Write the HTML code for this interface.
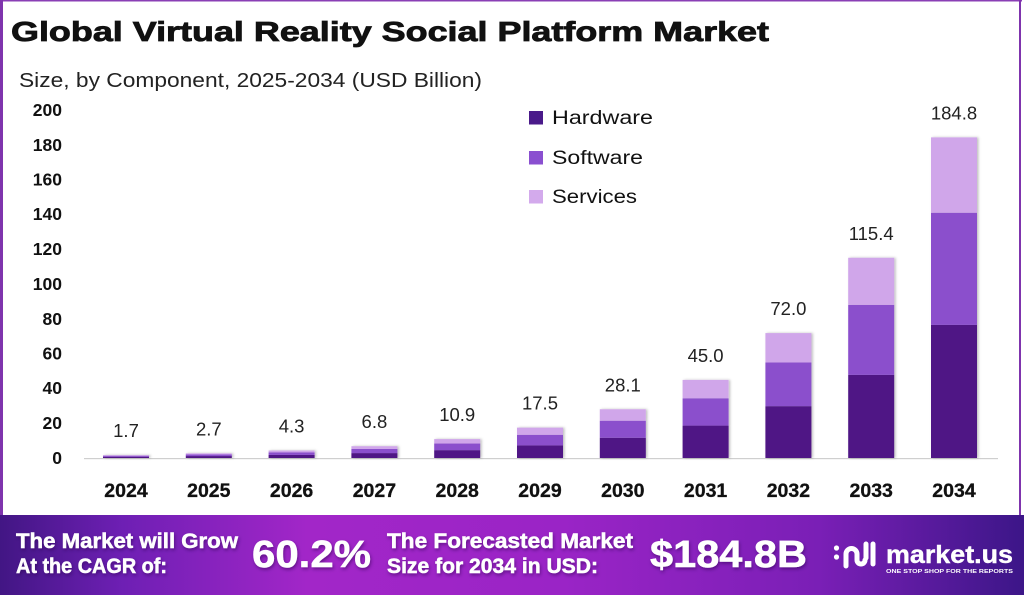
<!DOCTYPE html>
<html><head><meta charset="utf-8"><style>
html,body{margin:0;padding:0;background:#fff;}
svg{display:block;}
text{font-family:"Liberation Sans",sans-serif;}
</style></head><body>
<svg width="1024" height="595" viewBox="0 0 1024 595" xmlns="http://www.w3.org/2000/svg">
<defs>
<linearGradient id="ban" x1="0" y1="0" x2="1" y2="0">
<stop offset="0" stop-color="#421684"/>
<stop offset="0.12" stop-color="#6e1fb4"/>
<stop offset="0.3" stop-color="#a226c8"/>
<stop offset="0.55" stop-color="#9a24c6"/>
<stop offset="0.8" stop-color="#7a1fb6"/>
<stop offset="1" stop-color="#3c1688"/>
</linearGradient>
<filter id="sh" x="-20%" y="-20%" width="140%" height="140%"><feDropShadow dx="1.5" dy="0" stdDeviation="1.2" flood-color="#000" flood-opacity="0.25"/></filter>
<filter id="ts" x="-10%" y="-20%" width="120%" height="150%"><feDropShadow dx="1" dy="2" stdDeviation="1.5" flood-color="#2a0050" flood-opacity="0.5"/></filter>
</defs>
<rect x="0" y="0" width="1024" height="595" fill="#fff"/>
<!-- borders -->
<rect x="0" y="0" width="1022" height="1.5" fill="#8a3fb5"/>
<rect x="0" y="0" width="3" height="515" fill="#7f34ad"/>
<rect x="1019" y="0" width="2" height="515" fill="#7f34ad"/>

<!-- title -->
<text x="11" y="41" font-size="28" font-weight="bold" fill="#111" stroke="#111" stroke-width="0.8" textLength="758" lengthAdjust="spacingAndGlyphs">Global Virtual Reality Social Platform Market</text>
<text x="19" y="87" font-size="20.5" fill="#222" textLength="463" lengthAdjust="spacingAndGlyphs">Size, by Component, 2025-2034 (USD Billion)</text>

<!-- y axis labels -->
<g font-size="17.5" font-weight="bold" fill="#111" text-anchor="end">
<text x="62" y="116">200</text>
<text x="62" y="151">180</text>
<text x="62" y="185.5">160</text>
<text x="62" y="220">140</text>
<text x="62" y="255">120</text>
<text x="62" y="290">100</text>
<text x="62" y="325">80</text>
<text x="62" y="359.5">60</text>
<text x="62" y="394">40</text>
<text x="62" y="429">20</text>
<text x="62" y="464">0</text>
</g>

<!-- baseline -->
<rect x="84" y="458" width="914" height="1.2" fill="#cfcfcf"/>

<!-- bars -->
<g filter="url(#sh)">
<rect x="103" y="456.78" width="46" height="1.22" fill="#4f1585"/><rect x="103" y="455.75" width="46" height="1.03" fill="#8b50cc"/><rect x="103" y="455.05" width="46" height="0.7" fill="#d0a6ea"/>
<rect x="185.8" y="456.06" width="46" height="1.94" fill="#4f1585"/><rect x="185.8" y="454.42" width="46" height="1.64" fill="#8b50cc"/><rect x="185.8" y="453.32" width="46" height="1.1" fill="#d0a6ea"/>
<rect x="268.6" y="454.9" width="46" height="3.1" fill="#4f1585"/><rect x="268.6" y="452.29" width="46" height="2.61" fill="#8b50cc"/><rect x="268.6" y="450.54" width="46" height="1.75" fill="#d0a6ea"/>
<rect x="351.4" y="453.1" width="46" height="4.9" fill="#4f1585"/><rect x="351.4" y="448.97" width="46" height="4.13" fill="#8b50cc"/><rect x="351.4" y="446.2" width="46" height="2.77" fill="#d0a6ea"/>
<rect x="434.2" y="450.15" width="46" height="7.85" fill="#4f1585"/><rect x="434.2" y="443.53" width="46" height="6.62" fill="#8b50cc"/><rect x="434.2" y="439.09" width="46" height="4.44" fill="#d0a6ea"/>
<rect x="517" y="445.4" width="46" height="12.6" fill="#4f1585"/><rect x="517" y="434.77" width="46" height="10.63" fill="#8b50cc"/><rect x="517" y="427.64" width="46" height="7.13" fill="#d0a6ea"/>
<rect x="599.8" y="437.77" width="46" height="20.23" fill="#4f1585"/><rect x="599.8" y="420.71" width="46" height="17.06" fill="#8b50cc"/><rect x="599.8" y="409.25" width="46" height="11.46" fill="#d0a6ea"/>
<rect x="682.6" y="425.6" width="46" height="32.4" fill="#4f1585"/><rect x="682.6" y="398.27" width="46" height="27.33" fill="#8b50cc"/><rect x="682.6" y="379.92" width="46" height="18.35" fill="#d0a6ea"/>
<rect x="765.4" y="406.16" width="46" height="51.84" fill="#4f1585"/><rect x="765.4" y="362.44" width="46" height="43.72" fill="#8b50cc"/><rect x="765.4" y="333.08" width="46" height="29.36" fill="#d0a6ea"/>
<rect x="848.2" y="374.91" width="46" height="83.09" fill="#4f1585"/><rect x="848.2" y="304.83" width="46" height="70.08" fill="#8b50cc"/><rect x="848.2" y="257.78" width="46" height="47.05" fill="#d0a6ea"/>
<rect x="931" y="324.94" width="46" height="133.06" fill="#4f1585"/><rect x="931" y="212.72" width="46" height="112.22" fill="#8b50cc"/><rect x="931" y="137.37" width="46" height="75.35" fill="#d0a6ea"/>
</g>

<!-- value labels -->
<g font-size="18.5" fill="#222" text-anchor="middle">
<text x="126" y="437">1.7</text>
<text x="208.8" y="435.3">2.7</text>
<text x="291.6" y="432.5">4.3</text>
<text x="374.4" y="428.2">6.8</text>
<text x="457.2" y="421.1">10.9</text>
<text x="540" y="409.6">17.5</text>
<text x="622.8" y="391.3">28.1</text>
<text x="705.6" y="361.9">45.0</text>
<text x="788.4" y="315.1">72.0</text>
<text x="871.2" y="239.8">115.4</text>
<text x="954" y="119.4">184.8</text>
</g>

<!-- year labels -->
<g font-size="19.5" font-weight="bold" fill="#111" stroke="#111" stroke-width="0.3" text-anchor="middle">
<text x="126" y="497">2024</text>
<text x="208.8" y="497">2025</text>
<text x="291.6" y="497">2026</text>
<text x="374.4" y="497">2027</text>
<text x="457.2" y="497">2028</text>
<text x="540" y="497">2029</text>
<text x="622.8" y="497">2030</text>
<text x="705.6" y="497">2031</text>
<text x="788.4" y="497">2032</text>
<text x="871.2" y="497">2033</text>
<text x="954" y="497">2034</text>
</g>

<!-- legend -->
<rect x="529" y="111" width="14" height="13.5" fill="#4a1a8a"/>
<rect x="529" y="151" width="14" height="13.5" fill="#8a4fd0"/>
<rect x="529" y="190" width="14" height="13.5" fill="#d3aaec"/>
<g font-size="19" fill="#111">
<text x="552" y="124" textLength="101" lengthAdjust="spacingAndGlyphs">Hardware</text>
<text x="552" y="164" textLength="91" lengthAdjust="spacingAndGlyphs">Software</text>
<text x="552" y="203" textLength="85" lengthAdjust="spacingAndGlyphs">Services</text>
</g>

<!-- banner -->
<rect x="0" y="515" width="1024" height="80" fill="url(#ban)"/>
<g fill="#fff" stroke="#fff" stroke-width="0.5" font-weight="bold" filter="url(#ts)">
<text x="16" y="548" font-size="21" textLength="222" lengthAdjust="spacingAndGlyphs">The Market will Grow</text>
<text x="16" y="573" font-size="21" textLength="151" lengthAdjust="spacingAndGlyphs">At the CAGR of:</text>
<text x="252" y="567" font-size="38" textLength="119" lengthAdjust="spacingAndGlyphs">60.2%</text>
<text x="387" y="548" font-size="21" textLength="246" lengthAdjust="spacingAndGlyphs">The Forecasted Market</text>
<text x="387" y="573" font-size="21" textLength="211" lengthAdjust="spacingAndGlyphs">Size for 2034 in USD:</text>
<text x="650" y="567" font-size="38" textLength="157" lengthAdjust="spacingAndGlyphs">$184.8B</text>
</g>
<!-- logo -->
<g fill="none" stroke="#fff" stroke-linecap="round" stroke-width="5">
<path d="M846 566 V554 a5.5 5.5 0 0 1 11 0 V560 a4 4 0 0 0 8 0"/>
<path d="M866 544 V558"/>
<path d="M873 544 V564"/>
</g>
<circle cx="836.5" cy="548" r="2.6" fill="#fff"/>
<circle cx="836.5" cy="557" r="2.6" fill="#fff"/>
<text x="886" y="563" font-size="25" font-weight="bold" fill="#fff" stroke="#fff" stroke-width="0.4" textLength="127" lengthAdjust="spacingAndGlyphs">market.us</text>
<text x="886" y="573" font-size="5.5" font-weight="bold" fill="#fff" textLength="127" lengthAdjust="spacingAndGlyphs">ONE STOP SHOP FOR THE REPORTS</text>
</svg>
</body></html>
